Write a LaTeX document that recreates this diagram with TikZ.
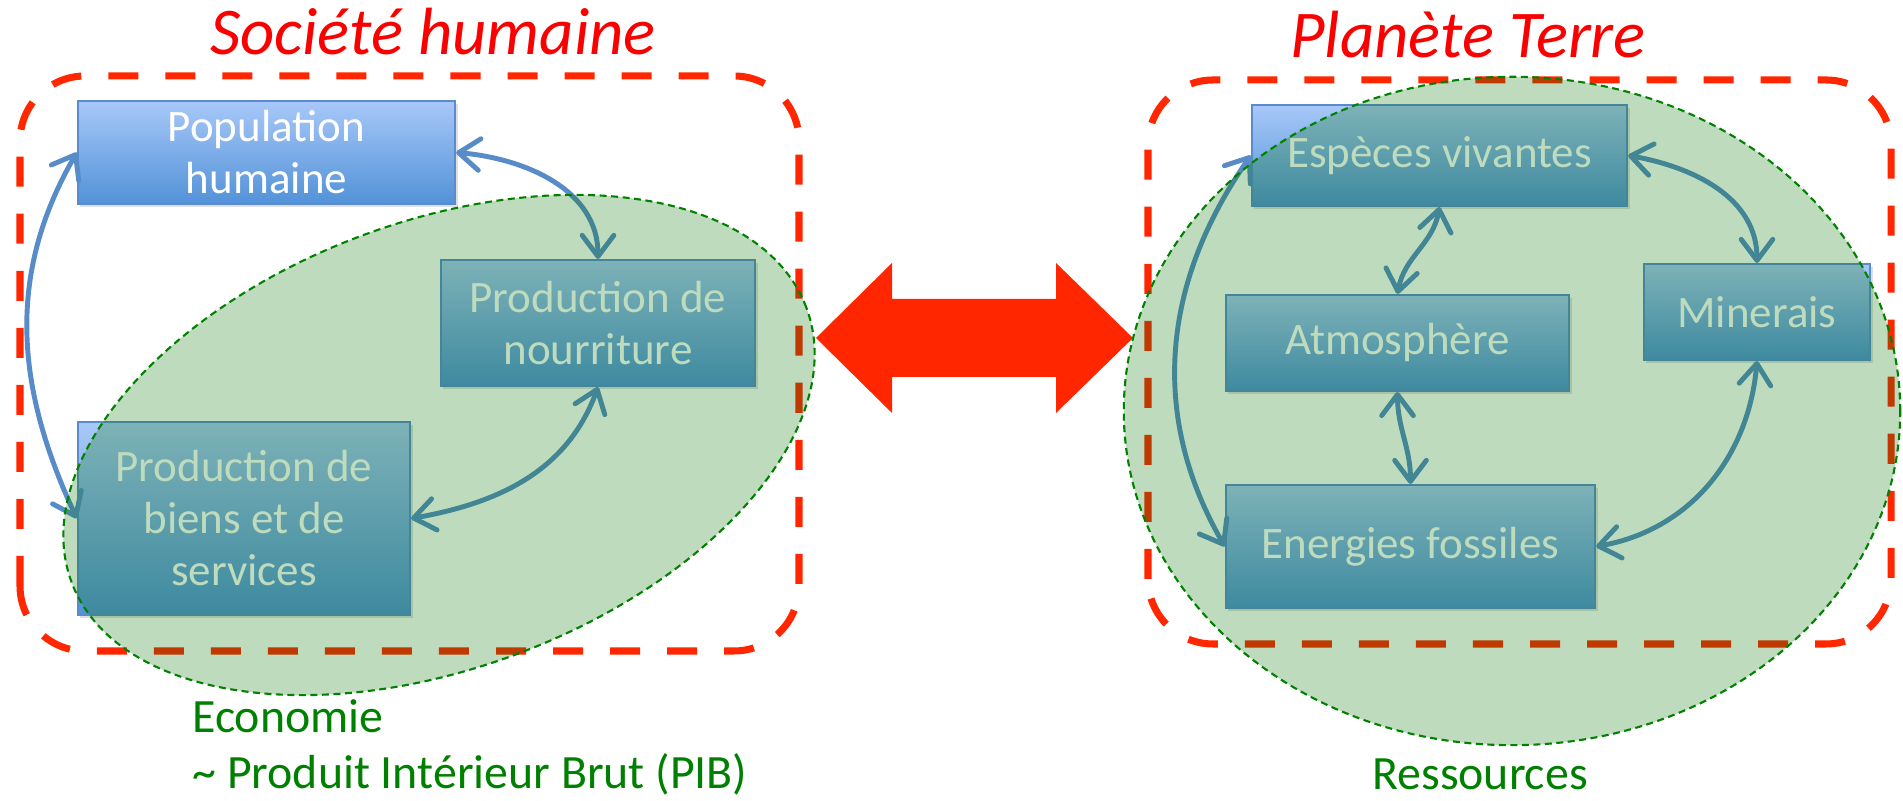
\documentclass[tikz,border=0pt]{standalone}
\usepackage{fontspec}
\setmainfont{Carlito}
\usetikzlibrary{arrows.meta,shadows}
\definecolor{redline}{RGB}{255,38,0}
\definecolor{titlered}{RGB}{250,0,0}
\definecolor{boxtop}{RGB}{168,200,248}
\definecolor{boxbot}{RGB}{82,146,216}
\definecolor{boxline}{RGB}{90,140,205}
\definecolor{linkblue}{RGB}{88,140,200}
\definecolor{veil}{RGB}{5,116,1}
\definecolor{veilline}{RGB}{0,130,0}
\definecolor{ecogreen}{RGB}{0,128,0}
\tikzset{
  bloc/.style={draw=boxline,line width=0.6pt,top color=boxtop,bottom color=boxbot,text=white,align=center,inner sep=0pt,font=\fontsize{12.8}{14.8}\selectfont,drop shadow={opacity=0.25,shadow xshift=0.7pt,shadow yshift=-0.9pt}},
  lien/.style={draw=linkblue,line width=1.4pt,>={Straight Barb[length=6pt,width=9pt,round]},<->},
  cadre/.style={draw=redline,line width=2pt,dash pattern=on 0.3cm off 0.27cm,rounded corners=0.65cm},
  voile/.style={fill=veil,fill opacity=0.26,draw=veilline,line width=0.6pt,dash pattern=on 0.07cm off 0.045cm},
  titre/.style={text=titlered,font=\fontsize{19}{22}\selectfont\itshape,anchor=base},
  legende/.style={text=ecogreen,font=\fontsize{13.6}{16.2}\selectfont}
}
\begin{document}
\begin{tikzpicture}[x=0.01cm,y=0.01cm]
\useasboundingbox (0,0) rectangle (1903,801);
\draw[cadre] (20,150) rectangle (799,725);
\draw[cadre] (1148,157) rectangle (1891,721);
\node[titre] (soc) at (433,746) {Société humaine};
\node[titre] (pla) at (1468,743) {Planète Terre};
\node[bloc,minimum width=3.77cm,minimum height=1.03cm] (pop) at (266.5,648.5) {Population\\humaine};
\node[bloc,minimum width=3.14cm,minimum height=1.26cm] (nour) at (598,478) {Production de\\nourriture};
\node[bloc,minimum width=3.32cm,minimum height=1.93cm] (biens) at (244,282.5) {Production de\\biens et de\\services};
\node[bloc,minimum width=3.75cm,minimum height=1.01cm] (esp) at (1439.5,645.5) {Espèces vivantes};
\node[bloc,minimum width=3.43cm,minimum height=0.96cm] (atm) at (1397.5,458) {Atmosphère};
\node[bloc,minimum width=2.26cm,minimum height=0.96cm] (min) at (1757,489) {Minerais};
\node[bloc,minimum width=3.69cm,minimum height=1.23cm] (ener) at (1410.5,254.5) {Energies fossiles};
\draw[lien] (pop.west) to[out=240,in=115] (biens.west);
\draw[lien] (pop.east) to[out=-5,in=90] (nour.north);
\draw[lien] (nour.south) to[out=-110,in=10] (biens.east);
\draw[lien] (esp.west) to[out=235,in=120] (ener.west);
\draw[lien] (esp.south) to[out=-100,in=80] (atm.north);
\draw[lien] (atm.south) to[out=-90,in=90] (ener.north);
\draw[lien] (esp.east) to[out=-10,in=90] (min.north);
\draw[lien] (min.south) to[out=-95,in=10] (ener.east);
\fill[redline] (816,463) -- (892,538) -- (892,502) -- (1056,502) -- (1056,538) -- (1133,463) -- (1056,388) -- (1056,424) -- (892,424) -- (892,388) -- cycle;
\draw[voile,rotate around={20.5:(439,356)}] (439,356) ellipse [x radius=3.92cm,y radius=2.23cm];
\draw[voile] (1512,390) ellipse [x radius=3.88cm,y radius=3.34cm];
\node[legende,anchor=base west,align=left] (eco) at (180,12) {Economie\\\textasciitilde{} Produit Intérieur Brut (PIB)};
\node[legende,anchor=base] (res) at (1480,11) {Ressources};
\end{tikzpicture}
\end{document}
